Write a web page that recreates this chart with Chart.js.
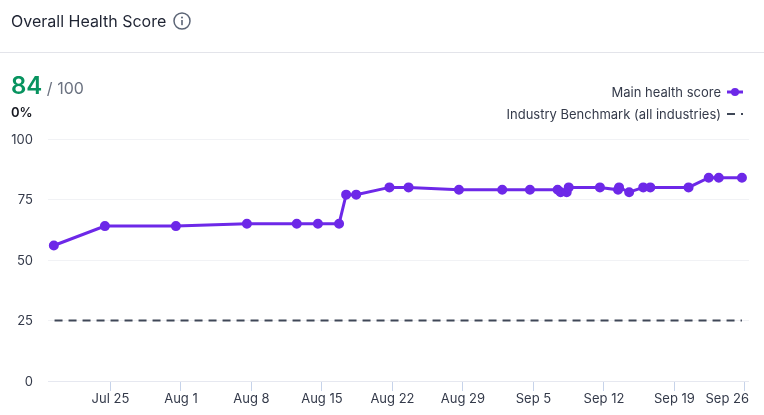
<!DOCTYPE html>
<html>
<head>
<meta charset="utf-8">
<title>Overall Health Score</title>
<script src="https://cdn.jsdelivr.net/npm/chart.js@4"></script>
<style>
	html, body { margin: 0; padding: 0; background: #fff; }
	body { width: 764px; height: 415px; overflow: hidden; position: relative; font-family: Inter, sans-serif; color: #1f2433; }
	canvas { position: absolute; left: 0; top: 0; }
	.title { position: absolute; left: 11px; top: 12px; font-size: 16px; line-height: 18px; }
	.info { position: absolute; left: 172px; top: 11px; }
	.divider { position: absolute; left: 0; top: 52px; width: 764px; height: 1px; background: #e3e4ea; }
	.score { position: absolute; left: 11px; top: 71px; line-height: 30px; font-size: 16px; color: #6b7280; }
	.score b { font-size: 24px; font-weight: 600; color: #07935f; }
	.change { position: absolute; left: 11px; top: 104px; font-size: 13px; line-height: 16px; font-weight: 600; color: #15171f; }
	.legend { position: absolute; right: 21px; font-size: 13px; line-height: 16px; color: #343a4a; white-space: nowrap; display: flex; align-items: center; }
	.legend svg { margin-left: 6px; }
</style>
</head>
<body>
<canvas id="chart" width="764" height="415"></canvas>
<div class="title">Overall Health Score</div>
<svg class="info" width="20" height="20" viewBox="0 0 20 20">
	<circle cx="10" cy="10" r="8" fill="none" stroke="#5b6475" stroke-width="1.5"/>
	<rect x="9.2" y="9" width="1.6" height="5.2" fill="#5b6475"/>
	<circle cx="10" cy="6.5" r="1" fill="#5b6475"/>
</svg>
<div class="divider"></div>
<div class="score"><b>84</b> / 100</div>
<div class="change">0%</div>
<div class="legend" style="top:84px">Main health score
	<svg width="16" height="8"><line x1="0" y1="4" x2="16" y2="4" stroke="#6d28e8" stroke-width="3"/><circle cx="8" cy="4" r="4" fill="#6d28e8"/></svg>
</div>
<div class="legend" style="top:106px">Industry Benchmark (all industries)
	<svg width="16" height="8"><line x1="0" y1="4" x2="8" y2="4" stroke="#3f4757" stroke-width="2"/><line x1="14" y1="4" x2="16" y2="4" stroke="#3f4757" stroke-width="2"/></svg>
</div>
<script>
// days counted from Jul 25
const scoreDays = [-5.62, -0.55, 6.5, 13.55, 18.5, 20.6, 22.7, 23.4, 24.4, 27.7, 29.6, 34.6, 38.9, 41.65, 44.4, 44.7, 45.3, 45.5, 48.6, 50.4, 50.5, 51.5, 52.9, 53.6, 57.4, 59.4, 60.4, 62.7]
const scoreValues = [56, 64, 64, 65, 65, 65, 65, 77, 77, 80, 80, 79, 79, 79, 79, 78, 78, 80, 80, 79, 80, 78, 80, 80, 80, 84, 84, 84]
const benchmarkDays = [-5.55, 62.7]
const benchmarkValues = [25, 25]

// first and last entries are only there to anchor the label alignment
const tickDays = [-6.2, 0, 7, 14, 21, 28, 35, 42, 49, 56, 63, 63.4]
const tickLabels = ['', 'Jul 25', 'Aug 1', 'Aug 8', 'Aug 15', 'Aug 22', 'Aug 29', 'Sep 5', 'Sep 12', 'Sep 19', '', 'Sep 26']
const yTicks = [0, 25, 50, 75, 100]

const toPoints = (xs, ys) => xs.map((x, i) => ({ x: x, y: ys[i] }))

const canvas = document.querySelector('#chart')
new Chart(canvas, {
	type: 'line',
	data: {
		datasets: [
			{
				label: 'Main health score',
				data: toPoints(scoreDays, scoreValues),
				borderColor: '#6d28e8',
				backgroundColor: '#6d28e8',
				borderWidth: 3,
				pointRadius: 3.5,
				tension: 0,
				order: 0,
			},
			{
				label: 'Industry Benchmark (all industries)',
				data: toPoints(benchmarkDays, benchmarkValues),
				borderColor: '#3f4757',
				borderWidth: 2,
				borderDash: [8, 6],
				pointRadius: 0,
				order: 1,
			},
		],
	},
	options: {
		responsive: false,
		animation: false,
		layout: { padding: { top: 139, right: 15, left: 0, bottom: 0 } },
		plugins: { legend: { display: false }, tooltip: { enabled: false } },
		scales: {
			x: {
				type: 'linear',
				min: tickDays[0],
				max: tickDays[tickDays.length - 1],
				afterBuildTicks: function (scale) {
					scale.ticks = tickDays.map(v => ({ value: v }))
				},
				afterFit: function (scale) {
					scale.height = 34
				},
				border: { display: false },
				grid: {
					drawOnChartArea: false,
					tickLength: 10,
					tickWidth: 1,
					tickColor: function (ctx) {
						return ctx.index === 0 || ctx.index === tickDays.length - 1 ? 'transparent' : '#c6d3ea'
					},
				},
				ticks: {
					autoSkip: false,
					maxRotation: 0,
					align: 'inner',
					padding: 0,
					color: '#343a4a',
					font: { family: 'Inter', size: 13 },
					callback: function (value, index) {
						return tickLabels[index]
					},
				},
			},
			y: {
				min: 0,
				max: 100,
				afterBuildTicks: function (scale) {
					scale.ticks = yTicks.map(v => ({ value: v }))
				},
				afterFit: function (scale) {
					scale.width = 48
				},
				border: { display: false },
				grid: {
					drawTicks: false,
					color: function (ctx) {
						return ctx.tick.value === 0 ? '#e6e8f0' : '#f1f2f5'
					},
				},
				ticks: {
					padding: 15,
					labelOffset: 1,
					color: '#343a4a',
					font: { family: 'Inter', size: 13 },
				},
			},
		},
	},
})
</script>
</body>
</html>
